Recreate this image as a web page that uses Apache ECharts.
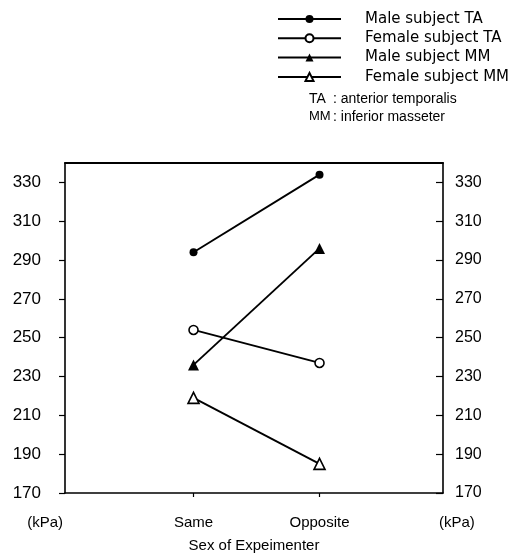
<!DOCTYPE html>
<html>
<head>
<meta charset="utf-8">
<script src="https://cdn.jsdelivr.net/npm/echarts@6/dist/echarts.min.js"></script>
<style>
  html, body { margin: 0; padding: 0; background: #fff; }
  #chart { width: 525px; height: 560px; }
</style>
</head>
<body>
<div id="chart"></div>
<script>
// data (kPa)
const categories = ['Same', 'Opposite'];
const xPositions = [1, 2];
const maleTA = [294, 334];
const femaleTA = [254, 237];
const maleMM = [236, 296];
const femaleMM = [219, 185];
const yTicks = [170, 190, 210, 230, 250, 270, 290, 310, 330];

const FONT = '"Liberation Sans", Arial, sans-serif';

function pairs(vals) {
  return vals.map((v, i) => [xPositions[i], v]);
}

function lineSeries(name, vals, symbol, size, filled) {
  return {
    name: name,
    type: 'line',
    data: pairs(vals),
    symbol: symbol,
    symbolSize: size,
    lineStyle: { color: '#000', width: 1.9 },
    itemStyle: {
      color: filled ? '#000' : '#fff',
      borderColor: '#000',
      borderWidth: filled ? 0 : 1.6
    },
    emphasis: { disabled: true },
    z: 3
  };
}

let chart = echarts.init(document.getElementById('chart'));

let option = {
  animation: false,
  backgroundColor: '#fff',
  grid: {
    left: 65, right: 82, top: 163, bottom: 67,
    outerBoundsMode: 'none'
  },
  legend: {
    orient: 'vertical',
    left: 277,
    top: 11,
    padding: 0,
    itemWidth: 63,
    itemHeight: 10,
    itemGap: 3.3,
    textStyle: {
      fontFamily: '"DejaVu Sans", sans-serif',
      fontSize: 15,
      lineHeight: 16,
      color: '#000',
      padding: [0, 0, 0, 19]
    },
    data: ['Male subject TA', 'Female subject TA', 'Male subject MM', 'Female subject MM']
  },
  xAxis: [
    {
      type: 'value',
      min: -0.02,
      max: 2.98,
      name: 'Sex of Expeimenter',
      nameLocation: 'middle',
      nameGap: 45,
      nameTextStyle: { fontFamily: FONT, fontSize: 15, color: '#000' },
      splitLine: { show: false },
      axisLine: { onZero: false, lineStyle: { color: '#000', width: 1.6 } },
      axisTick: { customValues: xPositions, length: 4, lineStyle: { color: '#000', width: 1.2 } },
      axisLabel: {
        customValues: xPositions,
        margin: 22,
        fontFamily: FONT, fontSize: 15, color: '#000',
        formatter: v => categories[xPositions.indexOf(v)] || ''
      }
    },
    {
      type: 'value',
      position: 'top',
      min: -0.02,
      max: 2.98,
      splitLine: { show: false },
      axisLine: { show: true, onZero: false, lineStyle: { color: '#000', width: 2 } },
      axisTick: { show: false },
      axisLabel: { show: false }
    }
  ],
  yAxis: [
    {
      type: 'value',
      position: 'left',
      min: 170,
      max: 340,
      name: '(kPa)',
      nameLocation: 'start',
      nameGap: 30,
      nameTextStyle: { fontFamily: FONT, fontSize: 15, color: '#000', align: 'right', verticalAlign: 'middle', padding: [0, 2, 0, 0] },
      splitLine: { show: false },
      axisLine: { show: true, onZero: false, lineStyle: { color: '#000', width: 1.6 } },
      axisTick: { customValues: yTicks, length: 6, lineStyle: { color: '#000', width: 1.2 } },
      axisLabel: { customValues: yTicks, margin: 24, fontFamily: FONT, fontSize: 17, color: '#000' }
    },
    {
      type: 'value',
      position: 'right',
      min: 170,
      max: 340,
      name: '(kPa)',
      nameLocation: 'start',
      nameGap: 30,
      nameTextStyle: { fontFamily: FONT, fontSize: 15, color: '#000', align: 'left', verticalAlign: 'middle', padding: [0, 0, 0, -4] },
      splitLine: { show: false },
      axisLine: { show: true, onZero: false, lineStyle: { color: '#000', width: 1.6 } },
      axisTick: { inside: true, customValues: yTicks, length: 7, lineStyle: { color: '#000', width: 1.2 } },
      axisLabel: { customValues: yTicks, margin: 12, fontFamily: FONT, fontSize: 16, color: '#000' }
    }
  ],
  graphic: [
    { type: 'text', left: 309, top: 92, style: { text: 'TA', font: '14px ' + FONT, fill: '#000' } },
    { type: 'text', left: 333, top: 92, style: { text: ': anterior temporalis', font: '14px ' + FONT, fill: '#000' } },
    { type: 'text', left: 309, top: 110, style: { text: 'MM', font: '13px ' + FONT, fill: '#000' } },
    { type: 'text', left: 333, top: 110, style: { text: ': inferior masseter', font: '14px ' + FONT, fill: '#000' } }
  ],
  series: [
    lineSeries('Male subject TA', maleTA, 'circle', 8, true),
    lineSeries('Female subject TA', femaleTA, 'circle', 9, false),
    lineSeries('Male subject MM', maleMM, 'triangle', 11, true),
    lineSeries('Female subject MM', femaleMM, 'triangle', 11, false)
  ]
};

chart.setOption(option);
</script>
</body>
</html>
